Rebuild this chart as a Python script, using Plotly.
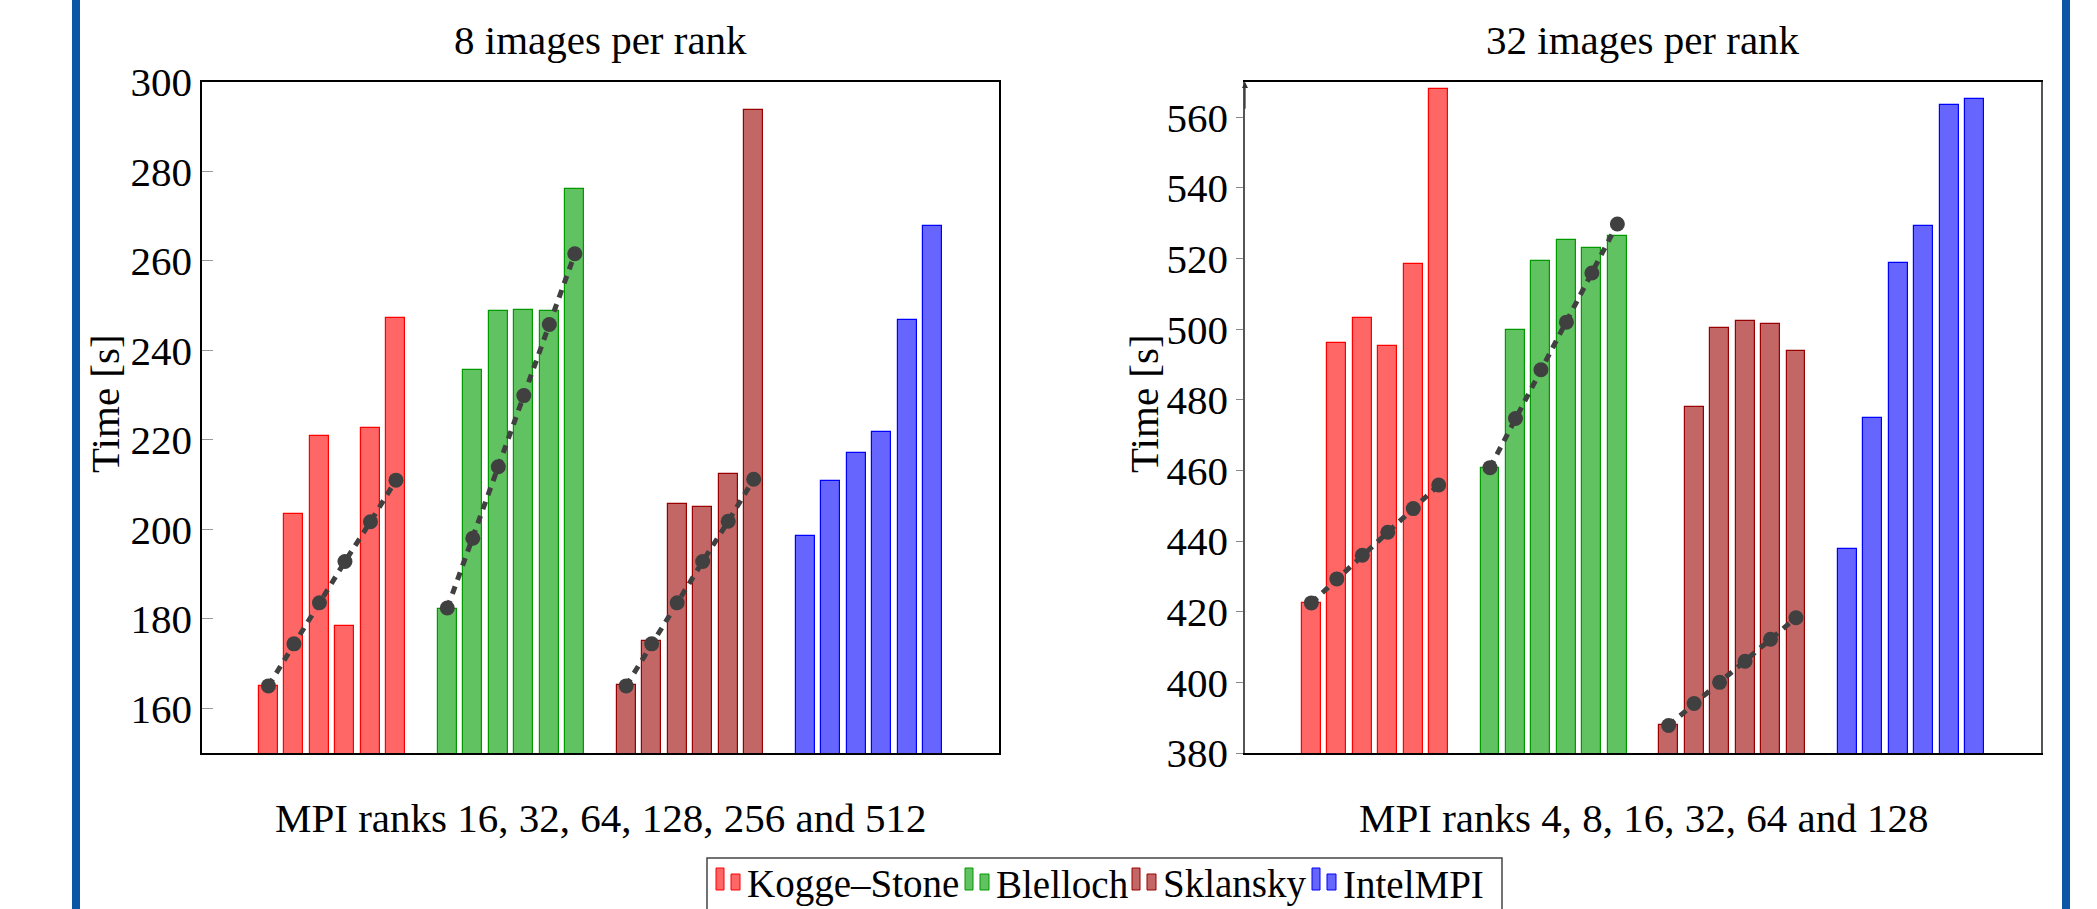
import plotly.graph_objects as go

W, H = 2097, 909

# ---------------- data ----------------
methods = ["Kogge–Stone", "Blelloch", "Sklansky", "IntelMPI"]
ranks_8 = [16, 32, 64, 128, 256, 512]
ranks_32 = [4, 8, 16, 32, 64, 128]

t8_kogge = [165.0, 203.5, 220.8, 178.4, 222.7, 247.2]
t8_blelloch = [182.3, 235.6, 248.9, 249.0, 248.7, 276.1]
t8_sklansky = [165.2, 175.0, 205.6, 205.0, 212.3, 293.8]
t8_intel = [198.5, 210.9, 217.1, 221.8, 246.8, 267.7]
ideal8_kogge = [165.0, 174.4, 183.6, 192.8, 201.7, 211.0]
ideal8_blelloch = [182.4, 198.0, 214.0, 229.9, 245.8, 261.6]
ideal8_sklansky = [165.0, 174.4, 183.6, 192.8, 201.8, 211.2]

t32_kogge = [422.5, 496.1, 503.3, 495.3, 518.6, 567.9]
t32_blelloch = [460.8, 499.7, 519.2, 525.4, 523.0, 526.4]
t32_sklansky = [387.8, 477.9, 500.4, 502.4, 501.4, 493.7]
t32_intel = [437.9, 474.8, 518.8, 529.3, 563.6, 565.3]
ideal32_kogge = [422.5, 429.3, 436.0, 442.5, 449.2, 455.9]
ideal32_blelloch = [460.8, 474.7, 488.5, 502.0, 515.9, 529.8]
ideal32_sklansky = [387.8, 394.0, 400.0, 406.0, 412.2, 418.3]

ticks8 = [160, 180, 200, 220, 240, 260, 280, 300]
ticks32 = [380, 400, 420, 440, 460, 480, 500, 520, 540, 560]

# ---------------- styles ----------------
FONT = "Liberation Serif"
FS = 41
FS_LEG = 39
fills = ["#FF6666", "#61C261", "#C26666", "#6666FF"]
edges = ["#FF0000", "#009900", "#990000", "#0000FF"]
PITCH = 0.1426
BARW = 0.1062
LINE_COL = "#404040"


def px_x(p):
    return p / W


def px_y(p):
    return 1 - p / H


def xpos(g, n):
    return [g + 1 + (k - (n - 1) / 2) * PITCH for k in range(n)]


fig = go.Figure()

panels = [
    ("x", "y", [t8_kogge, t8_blelloch, t8_sklansky, t8_intel],
     [ideal8_kogge, ideal8_blelloch, ideal8_sklansky], ranks_8),
    ("x2", "y2", [t32_kogge, t32_blelloch, t32_sklansky, t32_intel],
     [ideal32_kogge, ideal32_blelloch, ideal32_sklansky], ranks_32),
]

for xa, ya, series, ideals, ranks in panels:
    for g, vals in enumerate(series):
        fig.add_trace(go.Bar(
            x=xpos(g, len(vals)), y=vals, width=BARW,
            marker=dict(color=fills[g], line=dict(color=edges[g], width=1.2)),
            name=methods[g], showlegend=False, xaxis=xa, yaxis=ya,
            customdata=ranks, hovertemplate="ranks %{customdata}: %{y} s<extra></extra>",
        ))
    for g, vals in enumerate(ideals):
        fig.add_trace(go.Scatter(
            x=xpos(g, len(vals)), y=vals, mode="lines+markers",
            line=dict(color=LINE_COL, width=5, dash="8px,7px"),
            marker=dict(color=LINE_COL, size=15),
            showlegend=False, xaxis=xa, yaxis=ya, hoverinfo="skip",
        ))

ydom = [px_y(753), px_y(82)]
common_x = dict(range=[0.272, 4.728], showticklabels=False, ticks="", showgrid=False,
                zeroline=False, showline=True, mirror=True, linecolor="black", linewidth=1.5)
common_y = dict(showgrid=False, zeroline=False, showline=True, mirror=True, linewidth=1.5,
                tickfont=dict(family=FONT, size=FS, color="black"), tickwidth=1,
                automargin=False)

fig.update_layout(
    width=W, height=H,
    margin=dict(l=0, r=0, t=0, b=0, pad=0, autoexpand=False),
    paper_bgcolor="white", plot_bgcolor="white",
    bargap=0, showlegend=False,
    xaxis=dict(domain=[px_x(202), px_x(999)], anchor="y", automargin=False, **common_x),
    xaxis2=dict(domain=[px_x(1245), px_x(2041)], anchor="y2", automargin=False, **common_x),
    yaxis=dict(domain=ydom, anchor="x", range=[150, 300], tickvals=ticks8,
               ticks="inside", ticklen=11, tickcolor="#999999", linecolor="black",
               ticklabelstandoff=0, **common_y),
    yaxis2=dict(domain=ydom, anchor="x2", range=[380, 570], tickvals=ticks32,
                ticks="outside", ticklen=7, tickcolor="#888888", linecolor="#555555",
                ticklabelstandoff=0, **common_y),
)

annots = []
tf = dict(family=FONT, size=FS, color="black")
tfl = dict(family=FONT, size=FS_LEG, color="black")
# titles
annots.append(dict(text="8 images per rank", x=px_x(600), y=px_y(40), xref="paper", yref="paper",
                   showarrow=False, font=tf, xanchor="center", yanchor="middle"))
annots.append(dict(text="32 images per rank", x=px_x(1643), y=px_y(40), xref="paper", yref="paper",
                   showarrow=False, font=tf, xanchor="center", yanchor="middle"))
# x axis titles
annots.append(dict(text="MPI ranks 16, 32, 64, 128, 256 and 512", x=px_x(600), y=px_y(818),
                   xref="paper", yref="paper", showarrow=False, font=tf,
                   xanchor="center", yanchor="middle"))
annots.append(dict(text="MPI ranks 4, 8, 16, 32, 64 and 128", x=px_x(1643), y=px_y(818),
                   xref="paper", yref="paper", showarrow=False, font=tf,
                   xanchor="center", yanchor="middle"))
# y axis titles
annots.append(dict(text="Time [s]", x=px_x(105), y=px_y(404), xref="paper", yref="paper",
                   showarrow=False, font=tf, textangle=-90, xanchor="center", yanchor="middle"))
annots.append(dict(text="Time [s]", x=px_x(1144), y=px_y(404), xref="paper", yref="paper",
                   showarrow=False, font=tf, textangle=-90, xanchor="center", yanchor="middle"))
# arrow on the right y axis
annots.append(dict(text="", x=0.272, y=570, ax=0.272, ay=562, xref="x2", yref="y2",
                   axref="x2", ayref="y2", showarrow=True, arrowhead=2, arrowsize=1,
                   arrowwidth=1.2, arrowcolor="#333333"))

shapes = []
# page borders
for x0, x1 in [(72, 80), (2062, 2070)]:
    shapes.append(dict(type="rect", xref="paper", yref="paper", x0=px_x(x0), x1=px_x(x1),
                       y0=0, y1=1, fillcolor="#0A58A5", line=dict(width=0), layer="above"))
# legend box
shapes.append(dict(type="rect", xref="paper", yref="paper", x0=px_x(707), x1=px_x(1502),
                   y0=px_y(858), y1=px_y(930), line=dict(color="#444444", width=1.5),
                   fillcolor="rgba(0,0,0,0)"))
sym_x = [716, 965, 1132, 1312]
txt_x = [745, 994, 1161, 1341]
for i, name in enumerate(methods):
    s = sym_x[i]
    shapes.append(dict(type="rect", xref="paper", yref="paper", x0=px_x(s), x1=px_x(s + 8),
                       y0=px_y(890), y1=px_y(868), fillcolor=fills[i],
                       line=dict(color=edges[i], width=1)))
    shapes.append(dict(type="rect", xref="paper", yref="paper", x0=px_x(s + 15), x1=px_x(s + 24),
                       y0=px_y(890), y1=px_y(874), fillcolor=fills[i],
                       line=dict(color=edges[i], width=1)))
    annots.append(dict(text=name, x=px_x(txt_x[i]), y=px_y(884), xref="paper", yref="paper",
                       showarrow=False, font=tfl, xanchor="left", yanchor="middle"))

fig.update_layout(annotations=annots, shapes=shapes)
fig.write_html("out.html")
